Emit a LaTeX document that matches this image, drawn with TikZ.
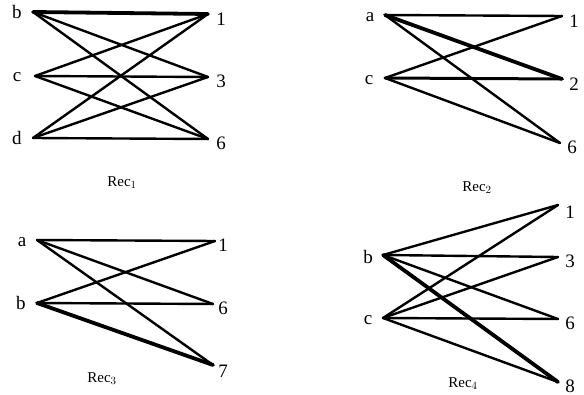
\documentclass[tikz,border=0pt]{standalone}
\usepackage{fontspec}
\setmainfont{Liberation Serif}
\begin{document}
\begin{tikzpicture}[x=1pt,y=-1pt,
  lbl/.style={font=\fontsize{19}{19}\selectfont, inner sep=0pt},
  captext/.style={font=\fontsize{15}{15}\selectfont, inner sep=0pt},
  edge/.style={line width=2.4pt, line cap=round, line join=round},
  heavy/.style={line width=3.8pt, line cap=round}]
\useasboundingbox (0,0) rectangle (584,395);
% Rec1
\coordinate (Ab) at (33,12); \coordinate (Ac) at (35,76); \coordinate (Ad) at (33,138);
\coordinate (A1) at (208,14); \coordinate (A3) at (208,77); \coordinate (A6) at (208,139);
\node[lbl] (lAb) at (17,12) {b};
\node[lbl] (lAc) at (17,77) {c};
\node[lbl] (lAd) at (17,138) {d};
\node[lbl] (lA1) at (221,19) {1};
\node[lbl] (lA3) at (221,81) {3};
\node[lbl] (lA6) at (221,143) {6};
\node[captext] (cA) at (122,183) {Rec$_1$};
\draw[heavy] (Ab) -- (A1);
\foreach \s/\t in {Ab/A3,Ab/A6,Ac/A1,Ac/A3,Ac/A6,Ad/A1,Ad/A3,Ad/A6} \draw[edge] (\s) -- (\t);
% Rec2
\coordinate (Ba) at (385,15); \coordinate (Bc) at (385,78);
\coordinate (B1) at (562,16); \coordinate (B2) at (562,79); \coordinate (B6) at (560,143);
\node[lbl] (lBa) at (370,17) {a};
\node[lbl] (lBc) at (369,80) {c};
\node[lbl] (lB1) at (574,21) {1};
\node[lbl] (lB2) at (574,84) {2};
\node[lbl] (lB6) at (572,147) {6};
\node[captext] (cB) at (477,188) {Rec$_2$};
\draw[heavy] (Ba) -- (B2);
\draw[line width=3pt, line cap=round] (Bc) -- (B2);
\foreach \s/\t in {Ba/B1,Ba/B6,Bc/B1,Bc/B6} \draw[edge] (\s) -- (\t);
% Rec3
\coordinate (Ca) at (37,240); \coordinate (Cb) at (37,303);
\coordinate (C1) at (215,241); \coordinate (C6) at (213,304); \coordinate (C7) at (213,365);
\node[lbl] (lCa) at (22,242) {a};
\node[lbl] (lCb) at (21,303) {b};
\node[lbl] (lC1) at (223,245) {1};
\node[lbl] (lC6) at (223,308) {6};
\node[lbl] (lC7) at (223,371) {7};
\node[captext] (cC) at (102,379) {Rec$_3$};
\draw[heavy] (Cb) -- (C7);
\foreach \s/\t in {Ca/C1,Ca/C6,Ca/C7,Cb/C1,Cb/C6} \draw[edge] (\s) -- (\t);
% Rec4
\coordinate (Db) at (383,255); \coordinate (Dc) at (383,318);
\coordinate (D1) at (558,205); \coordinate (D3) at (558,257); \coordinate (D6) at (558,319); \coordinate (D8) at (558,382);
\node[lbl] (lDb) at (368,257) {b};
\node[lbl] (lDc) at (368,320) {c};
\node[lbl] (lD1) at (570,212) {1};
\node[lbl] (lD3) at (570,261) {3};
\node[lbl] (lD6) at (570,323) {6};
\node[lbl] (lD8) at (570,386) {8};
\node[captext] (cD) at (463,384) {Rec$_4$};
\draw[heavy] (Db) -- (D8);
\foreach \s/\t in {Db/D1,Db/D3,Db/D6,Dc/D1,Dc/D3,Dc/D6,Dc/D8} \draw[edge] (\s) -- (\t);
\end{tikzpicture}
\end{document}
